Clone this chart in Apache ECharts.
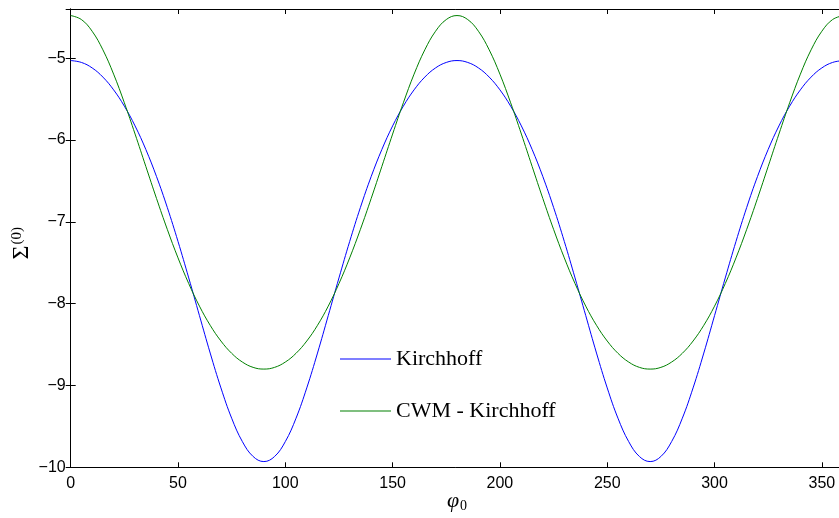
<!DOCTYPE html>
<html>
<head>
<meta charset="utf-8">
<script src="https://cdn.jsdelivr.net/npm/echarts@6/dist/echarts.min.js"></script>
<style>
  html, body { margin: 0; padding: 0; background: #fff; }
  #chart { width: 839px; height: 518px; }
</style>
</head>
<body>
<div id="chart"></div>
<script>
// phi_0 sample angles (degrees)
const phi = [
  0, 5, 10, 15, 20, 25, 30, 35, 40, 45, 50, 55, 60, 65, 70, 75, 80, 85, 90,
  95, 100, 105, 110, 115, 120, 125, 130, 135, 140, 145, 150, 155, 160, 165, 170, 175, 180,
  185, 190, 195, 200, 205, 210, 215, 220, 225, 230, 235, 240, 245, 250, 255, 260, 265, 270,
  275, 280, 285, 290, 295, 300, 305, 310, 315, 320, 325, 330, 335, 340, 345, 350, 355, 360
]

// Kirchhoff (blue)
const kirchhoff = [
  -5.030, -5.053, -5.120, -5.232, -5.388, -5.587, -5.829, -6.116, -6.448, -6.824, -7.240, -7.686, -8.147, -8.604, -9.030, -9.400, -9.686, -9.868, -9.930,
  -9.868, -9.686, -9.400, -9.030, -8.604, -8.147, -7.686, -7.240, -6.824, -6.448, -6.116, -5.829, -5.587, -5.388, -5.232, -5.120, -5.053, -5.030,
  -5.053, -5.120, -5.232, -5.388, -5.587, -5.829, -6.116, -6.448, -6.824, -7.240, -7.686, -8.147, -8.604, -9.030, -9.400, -9.686, -9.868, -9.930,
  -9.868, -9.686, -9.400, -9.030, -8.604, -8.147, -7.686, -7.240, -6.824, -6.448, -6.116, -5.829, -5.587, -5.388, -5.232, -5.120, -5.053, -5.030
]

// CWM - Kirchhoff (green)
const cwm = [
  -4.480, -4.529, -4.672, -4.899, -5.196, -5.546, -5.928, -6.323, -6.716, -7.092, -7.441, -7.755, -8.031, -8.265, -8.457, -8.607, -8.714, -8.779, -8.800,
  -8.779, -8.714, -8.607, -8.457, -8.265, -8.031, -7.755, -7.441, -7.092, -6.716, -6.323, -5.928, -5.546, -5.196, -4.899, -4.672, -4.529, -4.480,
  -4.529, -4.672, -4.899, -5.196, -5.546, -5.928, -6.323, -6.716, -7.092, -7.441, -7.755, -8.031, -8.265, -8.457, -8.607, -8.714, -8.779, -8.800,
  -8.779, -8.714, -8.607, -8.457, -8.265, -8.031, -7.755, -7.441, -7.092, -6.716, -6.323, -5.928, -5.546, -5.196, -4.899, -4.672, -4.529, -4.480
]

const seriesNames = ['Kirchhoff', 'CWM - Kirchhoff']

const chart = echarts.init(document.getElementById('chart'))

const minus = v => String(v).replace('-', '\u2212')
const axisLine = { show: true, lineStyle: { color: '#000', width: 1 } }
const tick = { show: true, inside: true, length: 5, lineStyle: { color: '#000', width: 1 } }
const labelFont = { fontFamily: 'Liberation Sans', fontSize: 16, color: '#000' }

const option = {
  animation: false,
  backgroundColor: '#fff',
  grid: { left: 70.7, top: 9, right: -4.3, bottom: 50.7, containLabel: false, outerBoundsMode: 'none' },
  legend: {
    data: [
      { name: seriesNames[0], icon: 'rect', itemStyle: { color: '#0000ff' } },
      { name: seriesNames[1], icon: 'rect', itemStyle: { color: '#008000' } }
    ],
    orient: 'vertical',
    left: 340,
    top: 347,
    padding: 0,
    itemWidth: 51,
    itemHeight: 1,
    itemGap: 28,
    textStyle: { fontFamily: 'Liberation Serif', fontSize: 22, color: '#000', lineHeight: 24 }
  },
  xAxis: [
    {
      type: 'value', min: 0, max: 360, interval: 50,
      axisLine: axisLine, axisTick: tick, splitLine: { show: false },
      axisLabel: Object.assign({ margin: 8, showMaxLabel: false, formatter: v => v % 50 === 0 ? minus(v) : '' }, labelFont),
      name: '{i|φ}{s|0}',
      nameLocation: 'middle',
      nameGap: 22,
      nameMoveOverlap: false,
      nameTextStyle: {
        rich: {
          i: { fontFamily: 'Liberation Serif', fontStyle: 'italic', fontSize: 22, color: '#000' },
          s: { fontFamily: 'Liberation Serif', fontSize: 14, color: '#000', verticalAlign: 'bottom', padding: [10, 0, 0, 1] }
        }
      }
    },
    {
      type: 'value', position: 'top', min: 0, max: 360, interval: 50,
      axisLine: axisLine, axisTick: tick, axisLabel: { show: false }, splitLine: { show: false }
    }
  ],
  yAxis: [
    {
      type: 'value', min: -10, max: -4.4, interval: 1,
      axisLine: axisLine, axisTick: tick, splitLine: { show: false },
      axisLabel: Object.assign({ margin: 5, showMaxLabel: false, formatter: v => Number.isInteger(v) ? minus(v) : '' }, labelFont),
      name: '{s|Σ}{p|(0)}',
      nameLocation: 'middle',
      nameGap: 37,
      nameMoveOverlap: false,
      nameTextStyle: {
        rich: {
          s: { fontFamily: 'Liberation Serif', fontSize: 24, color: '#000' },
          p: { fontFamily: 'Liberation Serif', fontSize: 15, color: '#000', verticalAlign: 'top', padding: [0, 10, 9, 1] }
        }
      }
    },
    {
      type: 'value', position: 'right', min: -10, max: -4.4, interval: 1,
      axisLine: axisLine, axisTick: tick, axisLabel: { show: false }, splitLine: { show: false }
    }
  ],
  series: [
    {
      name: seriesNames[0],
      type: 'line',
      symbol: 'none',
      smooth: 0.4,
      data: phi.map((p, i) => [p, kirchhoff[i]]),
      lineStyle: { color: '#0000ff', width: 1 },
      itemStyle: { color: '#0000ff' }
    },
    {
      name: seriesNames[1],
      type: 'line',
      symbol: 'none',
      smooth: 0.4,
      data: phi.map((p, i) => [p, cwm[i]]),
      lineStyle: { color: '#008000', width: 1 },
      itemStyle: { color: '#008000' }
    }
  ]
}

chart.setOption(option)
</script>
</body>
</html>
